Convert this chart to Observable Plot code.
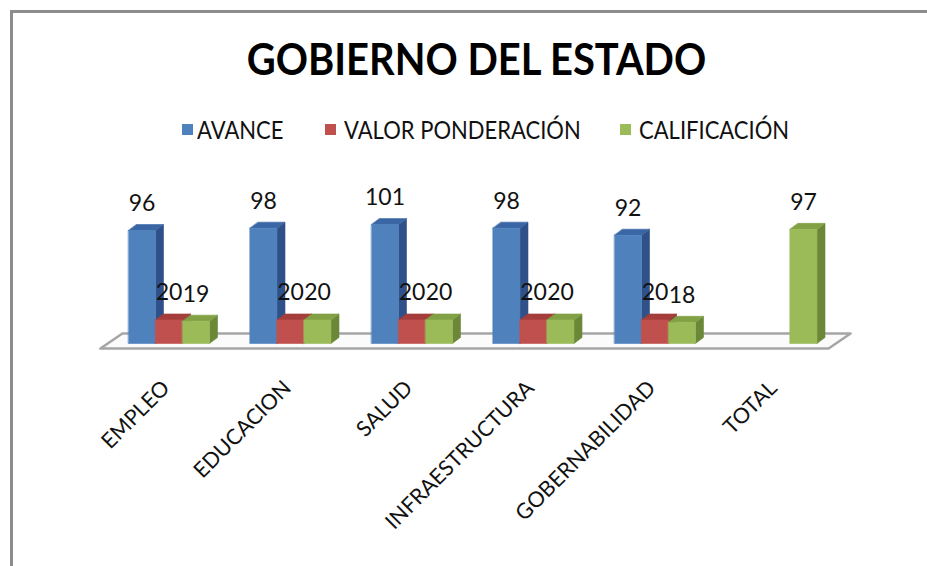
<!DOCTYPE html>
<html>
<head>
<meta charset="utf-8">
<script src="https://cdn.jsdelivr.net/npm/d3@7"></script>
<script src="https://cdn.jsdelivr.net/npm/@observablehq/plot@0.6"></script>
<style>
  html, body { margin: 0; padding: 0; background: #fff; }
  body { width: 927px; height: 566px; overflow: hidden; position: relative; font-family: Lato, "Noto Sans", sans-serif; }
  #frame { position: absolute; left: 10px; top: 10px; width: 917px; height: 556px;
           border-left: 3px solid #8c8c8c; border-top: 3px solid #8c8c8c; box-sizing: border-box; }
  #title { position: absolute; left: 13px; width: 927px; top: 30px; text-align: center;
           font-weight: bold; font-size: 44px; color: #000; line-height: 56px;
           transform: scaleX(0.907); transform-origin: center; }
  #legend { position: absolute; top: 114px; left: 0; width: 927px; height: 30px; }
  .lg { position: absolute; top: 0; font-size: 25px; line-height: 30px; color: #111; white-space: nowrap;
        transform: scaleX(0.88); transform-origin: left center; }
  .sw { position: absolute; width: 11px; height: 11px; top: 10px; }
  #chart { position: absolute; left: 0; top: 160px; }
</style>
</head>
<body>
<div id="frame"></div>
<div id="title">GOBIERNO DEL ESTADO</div>
<div id="legend"></div>
<div id="chart"></div>
<script>
const categories = ["EMPLEO", "EDUCACION", "SALUD", "INFRAESTRUCTURA", "GOBERNABILIDAD", "TOTAL"];
const seriesNames = ["AVANCE", "VALOR PONDERACIÓN", "CALIFICACIÓN"];
const avance = [96, 98, 101, 98, 92, null];
const valorPonderacion = [20, 20, 20, 20, 20, null];
const calificacion = [19, 20, 20, 20, 18, 97];

const seriesValues = [avance, valorPonderacion, calificacion];
const frontColors = ["#4f81bd", "#c0504d", "#9bbb59"];
const topColors = ["#3b66a6", "#a53d3a", "#82a144"];
const sideColors = ["#2f5088", "#8a3330", "#6a8838"];

// layout in bar-width units
const groupStep = 4.5;
const depthX = 8 / 27;
const depthY = 6 / 1.177;

// legend (HTML)
const legendPos = [{sw: 182, tx: 197}, {sw: 325, tx: 344}, {sw: 620, tx: 639}];
const legend = document.getElementById("legend");
seriesNames.forEach((name, k) => {
  const s = document.createElement("div");
  s.className = "sw"; s.style.left = legendPos[k].sw + "px"; s.style.background = frontColors[k];
  legend.appendChild(s);
  const t = document.createElement("div");
  t.className = "lg"; t.style.left = legendPos[k].tx + "px"; t.textContent = name;
  legend.appendChild(t);
});

// build bars
const bars = [];
categories.forEach((cat, i) => {
  seriesValues.forEach((vals, k) => {
    const v = vals[i];
    if (v == null) return;
    bars.push({cat, k, v, x1: i * groupStep + k, x2: i * groupStep + k + 1});
  });
});

const faces = [];
bars.forEach((b, j) => {
  const poly = (name, pts, color) => pts.forEach(([x, y]) => faces.push({id: j + name, x, y, color}));
  poly("side", [[b.x2, 0], [b.x2 + depthX, depthY], [b.x2 + depthX, b.v + depthY], [b.x2, b.v]], sideColors[b.k]);
  poly("top", [[b.x1, b.v], [b.x2, b.v], [b.x2 + depthX, b.v + depthY], [b.x1 + depthX, b.v + depthY]], topColors[b.k]);
  poly("front", [[b.x1, 0], [b.x2, 0], [b.x2, b.v], [b.x1, b.v]], frontColors[b.k]);
});

const nGroups = categories.length;
const floorLeft = -1.04, floorRight = (nGroups - 1) * groupStep + 3 + 0.43;
const floorFront = -4.25, floorBack = 8.5;
const floorShift = 22 / 27;
const floor = [
  {x: floorLeft, y: floorFront},
  {x: floorRight, y: floorFront},
  {x: floorRight + floorShift, y: floorBack},
  {x: floorLeft + floorShift, y: floorBack}
];

const chart = Plot.plot({
  width: 927,
  height: 406,
  marginTop: 0, marginRight: 0, marginBottom: 0, marginLeft: 0,
  x: {type: "linear", domain: [0, 1], range: [128, 155], axis: null},
  y: {domain: [0, 100], range: [183, 183 - 117.7], axis: null},
  style: {fontFamily: "Lato, 'Noto Sans', sans-serif", background: "transparent"},
  marks: [
    Plot.line(floor, {x: "x", y: "y", curve: "linear-closed", fill: "#fbfbfb", stroke: "#a6a6a6", strokeWidth: 2.5}),
    Plot.line(faces, {x: "x", y: "y", z: "id", curve: "linear-closed", fill: "color", stroke: "color", strokeWidth: 0.6}),
    Plot.text(bars, {x: d => d.x1 + 0.5, y: "v", text: d => String(d.v), dy: -27, fontSize: 23, fill: "#111"}),
    Plot.text(categories, {x: (d, i) => i * groupStep + 1.5, y: () => 0, text: d => d, dy: 41, dx: -3, rotate: -45, textAnchor: "end", fontSize: 21.5, fill: "#111"})
  ]
});
document.getElementById("chart").appendChild(chart);
</script>
</body>
</html>
